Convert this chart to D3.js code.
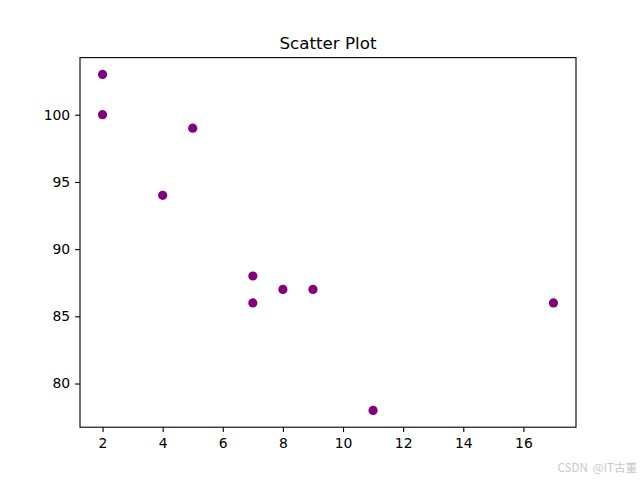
<!DOCTYPE html>
<html><head><meta charset="utf-8">
<script src="https://cdn.jsdelivr.net/npm/d3@7"></script>
<style>body{margin:0;background:#fff}svg{display:block}</style>
</head><body>
<script>
const xValues = [2, 2, 5, 4, 7, 7, 8, 9, 17, 11];
const yValues = [103, 100, 99, 94, 88, 86, 87, 87, 86, 78];
const xTicks = [2, 4, 6, 8, 10, 12, 14, 16];
const yTicks = [80, 85, 90, 95, 100];
const title = "Scatter Plot";
const watermark = "CSDN @IT古董";

const W = 640, H = 480;
const L = 80, R = 576, T = 57.6, B = 427.2;
const svg = d3.select("body").append("svg").attr("width", W).attr("height", H)
  .style("font-family", "'DejaVu Sans', sans-serif");

const x = d3.scaleLinear().domain([1.25, 17.75]).range([L, R]);
const y = d3.scaleLinear().domain([76.75, 104.25]).range([B, T]);

svg.append("g").selectAll("circle").data(xValues.map((v, i) => [v, yValues[i]]))
  .join("circle").attr("cx", d => x(d[0])).attr("cy", d => y(d[1]))
  .attr("r", 4.6).attr("fill", "purple");

const xa = svg.append("g").attr("transform", `translate(0,${B})`)
  .call(d3.axisBottom(x).tickValues(xTicks).tickSize(4.9).tickPadding(4.9).tickFormat(d3.format("d")));
const ya = svg.append("g").attr("transform", `translate(${L},0)`)
  .call(d3.axisLeft(y).tickValues(yTicks).tickSize(4.9).tickPadding(4.9).tickFormat(d3.format("d")));
[xa, ya].forEach(a => {
  a.select(".domain").remove();
  a.selectAll("text").attr("font-size", 13.9).attr("fill", "#000").style("font-family", "'DejaVu Sans', sans-serif");
  a.selectAll("line").attr("stroke", "#000").attr("stroke-width", 1.1);
});
xa.selectAll("text").attr("dy", "0.76em");

svg.append("rect").attr("x", L).attr("y", T).attr("width", R - L).attr("height", B - T)
  .attr("fill", "none").attr("stroke", "#000").attr("stroke-width", 1.1);

svg.append("text").attr("x", (L + R) / 2).attr("y", T - 8.3).attr("text-anchor", "middle")
  .attr("font-size", 16.7).text(title);

svg.append("text").attr("x", 637).attr("y", 472).attr("text-anchor", "end")
  .attr("font-size", 11.5).attr("fill", "#c8c8c8").attr("xml:space", "preserve")
  .style("font-family", "'Noto Sans CJK SC', sans-serif").style("white-space", "pre").text("CSDN  @IT古董");
</script>
</body></html>
